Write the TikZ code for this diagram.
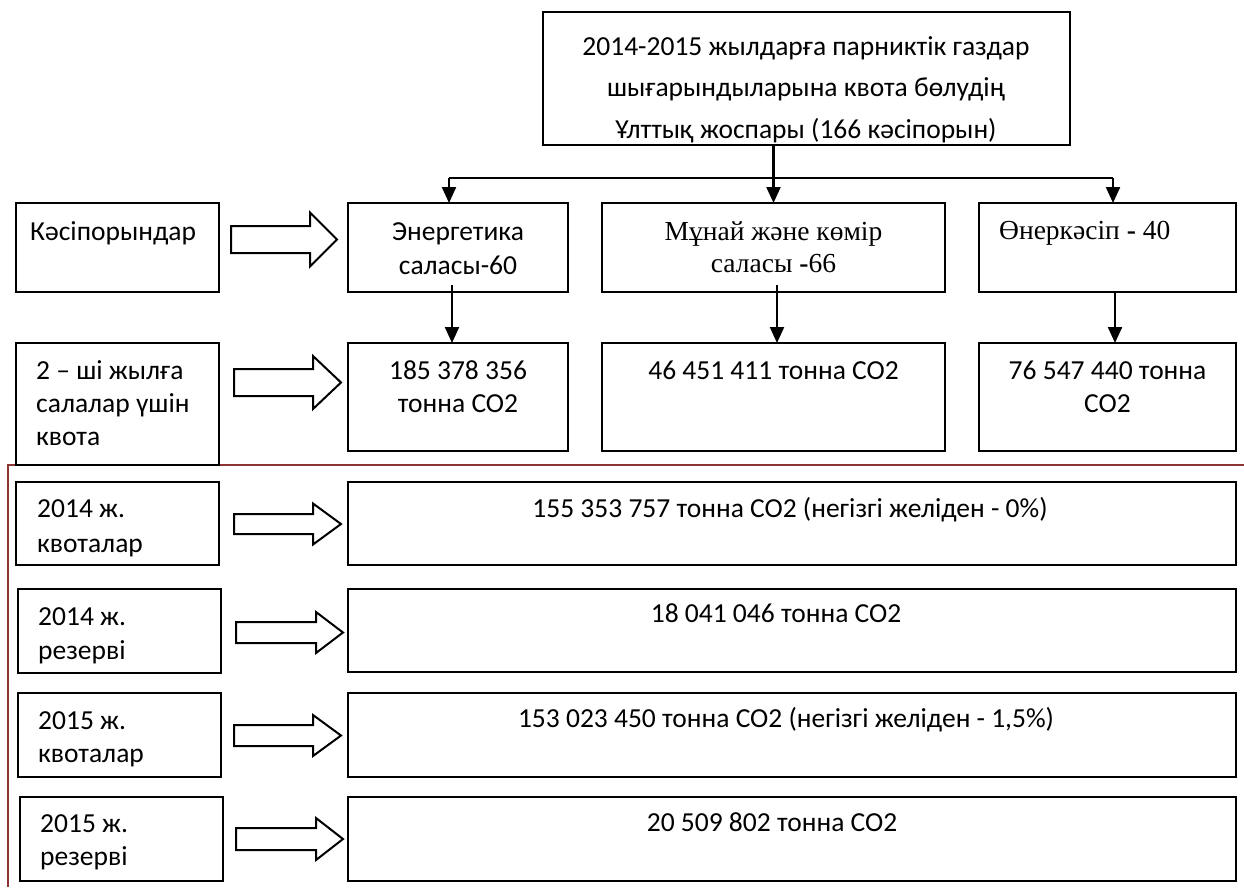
\documentclass[tikz,border=0pt]{standalone}
\usepackage{fontspec}
\setmainfont{Carlito}
\newfontfamily\tmsfont{Liberation Serif}
\usetikzlibrary{arrows.meta,fit}
\definecolor{framered}{RGB}{140,52,52}
\newcommand\blockarr[6]{%
  \draw[hollow] (#1,#3-#4) -- (#6,#3-#4) -- (#6,#3-#5) -- (#2,#3) -- (#6,#3+#5) -- (#6,#3+#4) -- (#1,#3+#4) -- cycle;}
\begin{document}
\begin{tikzpicture}[x=1pt,y=-1pt,
  box/.style={draw, line width=2.3pt, inner sep=0pt, outer sep=0pt},
  arr/.style={line width=2.2pt, -{Triangle[length=16pt,width=14pt]}},
  plain/.style={line width=2.2pt},
  txt/.style={inner sep=0pt, anchor=base, font=\fontsize{27.5}{33}\selectfont},
  txtl/.style={txt, anchor=base west},
  serif/.style={txt, font=\fontsize{27.5}{33}\selectfont\tmsfont},
  serifl/.style={serif, anchor=base west},
  hollow/.style={draw, line width=2pt, fill=white, line join=miter}]
\useasboundingbox (0,0) rectangle (1244,887);
\fill[white] (0,0) rectangle (1244,887);

% red frame
\draw[framered, line width=2.4pt] (8,887) -- (8,465) -- (1244,465);

% top box
\node[box, fit={(543,12) (1070,145)}] (top) {};
\node[txt] (t1) at (806,55) {2014-2015 жылдарға парниктік газдар};
\node[txt] (t2) at (806,96) {шығарындыларына квота бөлудің};
\node[txt] (t3) at (806,138) {Ұлттық жоспары (166 кәсіпорын)};

% row 1
\node[box, fit={(16,203) (219,292)}] (kas) {};
\node[box, fit={(348,203) (568,292)}] (ene) {};
\node[box, fit={(602,203) (945,292)}] (mun) {};
\node[box, fit={(979,203) (1236,292)}] (ind) {};
\node[txtl] (kast) at (30,240) {Кәсіпорындар};
\node[txt] (enet1) at (458,240) {Энергетика};
\node[txt] (enet2) at (458,274) {саласы-60};
\node[serif] (munt1) at (773.5,240) {Мұнай және көмір};
\node[serif] (munt2) at (773.5,272) {саласы \textbf{-}66};
\node[serifl] (indt) at (999,239) {Өнеркәсіп \textbf{-} 40};

% row 2
\node[box, fit={(16,343) (219,465)}] (quo) {};
\node[box, fit={(348,343) (568,451)}] (eneq) {};
\node[box, fit={(602,343) (945,451)}] (munq) {};
\node[box, fit={(979,343) (1236,451)}] (indq) {};
\node[txtl] (quot1) at (36,379) {2 – ші жылға};
\node[txtl] (quot2) at (36,412) {салалар үшін};
\node[txtl] (quot3) at (36,445) {квота};
\node[txt] (eneqt1) at (458,379) {185 378 356};
\node[txt] (eneqt2) at (458,412) {тонна CO2};
\node[txt] (munqt) at (773.5,379) {46 451 411 тонна CO2};
\node[txt] (indqt1) at (1107.5,379) {76 547 440 тонна};
\node[txt] (indqt2) at (1107.5,412) {CO2};

% connectors from top
\coordinate (busL) at (449,178);
\coordinate (busR) at (1113,178);
\draw[plain] (busL) -- (busR);
\draw[arr] (top.south -| mun.north) -- (mun.north);
\draw[arr] (busL) -- (busL |- ene.north);
\draw[arr] (busR) -- (busR |- ind.north);
\coordinate (e1) at (452,285);
\coordinate (m1) at (777,285);
\coordinate (i1) at (1115,292);
\draw[arr] (e1) -- (e1 |- eneq.north);
\draw[arr] (m1) -- (m1 |- munq.north);
\draw[arr] (i1) -- (i1 |- indq.north);

% hollow arrows, upper part
\blockarr{231}{337}{239.5}{13.5}{27}{310}
\blockarr{234}{341}{382.5}{13.5}{26.5}{313}

% lower part
\node[box, fit={(16,482) (219,565)}] (l1) {};
\node[box, fit={(18,589) (221,673)}] (l2) {};
\node[box, fit={(18,693) (221,777)}] (l3) {};
\node[box, fit={(20,797) (223,881)}] (l4) {};
\node[box, fit={(348,482) (1236,565)}] (r1) {};
\node[box, fit={(348,589) (1236,672)}] (r2) {};
\node[box, fit={(348,693) (1236,777)}] (r3) {};
\node[box, fit={(348,797) (1236,881)}] (r4) {};

\node[txtl] (l1a) at (37,517) {2014 ж.};
\node[txtl] (l1b) at (37,552) {квоталар};
\node[txtl] (l2a) at (38,625) {2014 ж.};
\node[txtl] (l2b) at (38,659) {резерві};
\node[txtl] (l3a) at (38,729) {2015 ж.};
\node[txtl] (l3b) at (38,762) {квоталар};
\node[txtl] (l4a) at (40,832) {2015 ж.};
\node[txtl] (l4b) at (40,865) {резерві};

\node[txt] (r1t) at (790,517) {155 353 757 тонна CO2 (негізгі желіден - 0\%)};
\node[txt] (r2t) at (776,622) {18 041 046 тонна CO2};
\node[txt] (r3t) at (786,727) {153 023 450 тонна CO2 (негізгі желіден - 1,5\%)};
\node[txt] (r4t) at (772,831) {20 509 802 тонна CO2};

\blockarr{234}{341}{524}{10}{20.5}{313}
\blockarr{236}{343}{632.5}{10.5}{20.5}{316}
\blockarr{234}{341}{735.5}{10.5}{20.5}{313}
\blockarr{236}{343}{839}{11}{21}{316}
\end{tikzpicture}
\end{document}
